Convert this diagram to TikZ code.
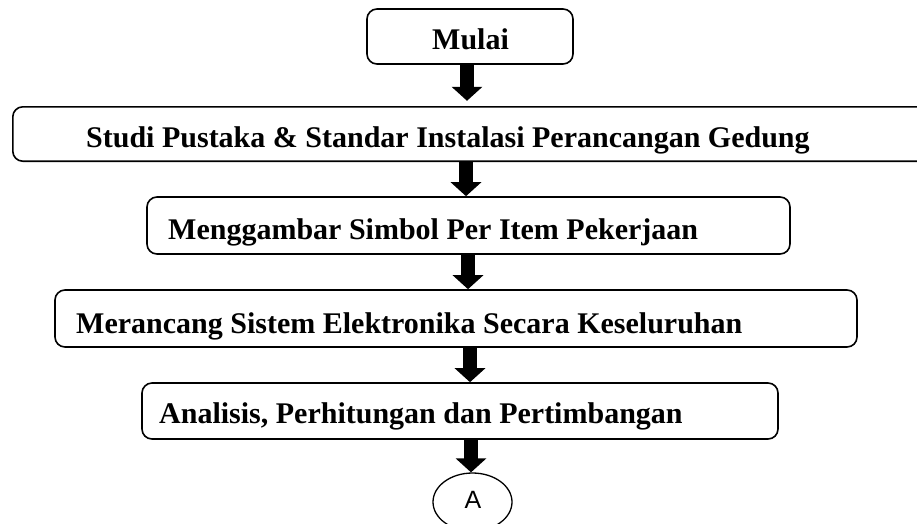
\documentclass[tikz,border=0pt]{standalone}
\usepackage{fontspec}
\setmainfont{Liberation Serif}
\newfontfamily\sansA{Liberation Sans}
\usetikzlibrary{arrows.meta,shapes.geometric}
\tikzset{
  outline/.style={line width=1.6pt, rounded corners=10pt},
  box/.style={draw, outline, inner sep=0pt},
  lbl/.style={anchor=base west, inner sep=0pt, font=\fontsize{30}{36}\selectfont\bfseries},
  blockarrow/.style={line width=14pt, -{Triangle[width=30pt,length=14pt]}},
}
\begin{document}
\begin{tikzpicture}[x=1pt,y=-1pt]
\useasboundingbox (0,0) rectangle (917,523);
\clip (0,0) rectangle (917,523);
% boxes
\node[box, minimum width=206pt, minimum height=55pt] (mulai) at (470,36.5) {};
\node[inner sep=0pt, minimum width=987pt, minimum height=54pt] (studi) at (506.5,134) {};
\draw[outline] (studi.north east) -| (studi.south west) -- (studi.south east);
\node[box, minimum width=643pt, minimum height=57pt] (gambar) at (468.5,225.5) {};
\node[box, minimum width=802pt, minimum height=57pt] (rancang) at (456,318.5) {};
\node[box, minimum width=636pt, minimum height=56pt] (analisis) at (460,411) {};
\node[draw, line width=1.3pt, ellipse, minimum width=79pt, minimum height=58pt, inner sep=0pt] (A) at (472.5,502) {};
% texts
\node[lbl] (t1) at (432,49) {Mulai};
\node[lbl] (t2) at (86,147) {Studi Pustaka \& Standar Instalasi Perancangan Gedung};
\node[lbl] (t3) at (168,239) {Menggambar Simbol Per Item Pekerjaan};
\node[lbl] (t4) at (76,333) {Merancang Sistem Elektronika Secara Keseluruhan};
\node[lbl] (t5) at (159,423) {Analisis, Perhitungan dan Pertimbangan};
\node[inner sep=0pt, font=\sansA\fontsize{25}{28}\selectfont] (tA) at (473,500) {A};
% arrow columns
\coordinate (c1) at (467,0);
\coordinate (c2) at (466,0);
\coordinate (c3) at (468,0);
\coordinate (c4) at (470,0);
\coordinate (c5) at (471,0);
\draw[blockarrow, shorten >=6pt] (mulai.south -| c1) -- (studi.north -| c1);
\draw[blockarrow] (studi.south -| c2) -- (gambar.north -| c2);
\draw[blockarrow] (gambar.south -| c3) -- (rancang.north -| c3);
\draw[blockarrow] (rancang.south -| c4) -- (analisis.north -| c4);
\draw[blockarrow] (analisis.south -| c5) -- (A.north -| c5);
\end{tikzpicture}
\end{document}
